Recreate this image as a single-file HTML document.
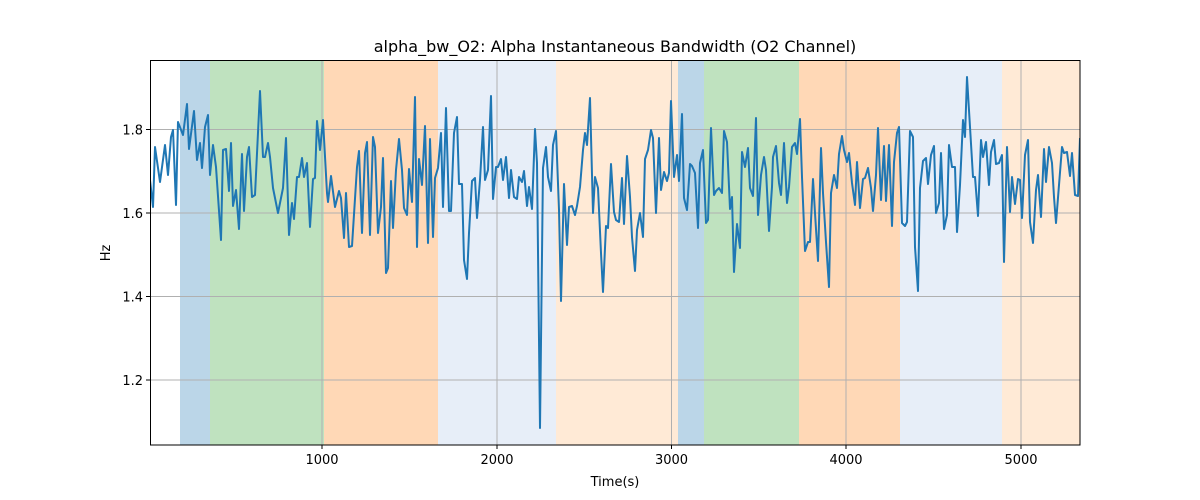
<!DOCTYPE html>
<html><head><meta charset="utf-8"><style>
html,body{margin:0;padding:0;background:#fff;}
svg{display:block;font-family:"DejaVu Sans","Liberation Sans",sans-serif;}
</style></head><body>
<svg width="1200" height="500" viewBox="0 0 1200 500" xmlns="http://www.w3.org/2000/svg">
<defs><clipPath id="c"><rect x="150.5" y="60.5" width="929.5" height="384.5"/></clipPath></defs>
<rect width="1200" height="500" fill="#fff"/>
<g>
<rect x="180" y="60" width="30" height="385" fill="#1f77b4" opacity="0.3"/>
<rect x="210" y="60" width="114" height="385" fill="#2ca02c" opacity="0.3"/>
<rect x="324" y="60" width="114" height="385" fill="#ff7f0e" opacity="0.3"/>
<rect x="438" y="60" width="118" height="385" fill="#aec7e8" opacity="0.3"/>
<rect x="556" y="60" width="122" height="385" fill="#ffbb78" opacity="0.3"/>
<rect x="678" y="60" width="26" height="385" fill="#1f77b4" opacity="0.3"/>
<rect x="704" y="60" width="95" height="385" fill="#2ca02c" opacity="0.3"/>
<rect x="799" y="60" width="101" height="385" fill="#ff7f0e" opacity="0.3"/>
<rect x="900" y="60" width="102" height="385" fill="#aec7e8" opacity="0.3"/>
<rect x="1002" y="60" width="78" height="385" fill="#ffbb78" opacity="0.3"/>
</g>
<g stroke="#b0b0b0" stroke-width="1">
<line x1="150" x2="1080" y1="129.5" y2="129.5"/>
<line x1="150" x2="1080" y1="213" y2="213"/>
<line x1="150" x2="1080" y1="296.5" y2="296.5"/>
<line x1="150" x2="1080" y1="380" y2="380"/>
<line x1="322" x2="322" y1="60" y2="445"/>
<line x1="497" x2="497" y1="60" y2="445"/>
<line x1="671.5" x2="671.5" y1="60" y2="445"/>
<line x1="846" x2="846" y1="60" y2="445"/>
<line x1="1021" x2="1021" y1="60" y2="445"/>
</g>
<polyline clip-path="url(#c)" fill="none" stroke="#1f77b4" stroke-width="2" stroke-linejoin="round" points="150,180 153,207 155,147 160,182 165,145 168,175 171,137 173,130 176,205 178,122 183,135 187,104 189,149 194,111 197,160 200,143 202,168 205,127 208,115 210,175 213,145 216,167 221,240 223,150 226,149 229,191 231,143 233,206 236,190 239,229 242,154 244,211 247,157 249,147 252,197 255,195 260,91 263,157 265,157 268,143 270,157 273,188 278,213 283,188 286,138 289,235 292,203 294,219 297,177 299,177 302,158 304,177 307,163 310,227 313,179 315,178 317,121 320,150 323,120 327,193 328,202 331,176 335,207 339,191 341,198 344,238 346,193 349,247 352,246 357,167 359,151 362,233 365,153 367,142 370,235 373,137 375,147 378,233 381,207 383,158 386,273 388,268 391,181 393,228 396,170 399,139 402,170 404,208 407,215 409,169 412,202 415,97 417,247 419,159 422,185 425,126 428,243 430,139 433,237 435,178 438,168 441,133 443,207 446,108 449,211 451,211 454,133 457,117 459,184 462,184 464,260 467,279 469,233 472,181 475,178 477,218 480,180 483,127 485,180 488,170 491,96 493,199 496,167 498,167 501,159 503,180 506,157 509,198 511,170 514,197 517,199 519,177 522,182 524,171 527,206 529,187 532,209 535,129 537,163 540,428 543,168 546,147 548,177 551,191 553,145 556,131 559,210 561,301 564,184 567,245 569,207 572,206 575,215 577,206 580,187 583,150 585,133 587,145 590,98 593,213 595,177 598,188 601,253 603,292 606,226 608,228 611,164 614,212 616,220 619,222 622,178 624,224 627,156 630,197 632,237 635,271 637,230 640,213 643,237 645,159 648,150 651,130 653,138 656,213 659,138 661,190 664,172 667,181 669,173 671,101 674,177 677,155 679,181 682,114 684,198 687,210 690,164 692,166 695,173 698,228 700,163 703,150 706,223 708,220 711,128 714,195 716,191 719,188 722,193 724,131 727,142 730,209 732,197 734,272 737,224 740,248 742,152 745,167 748,148 750,188 753,196 756,118 758,215 761,175 764,157 766,170 769,231 772,187 773,157 776,146 779,183 781,195 784,143 787,203 789,187 792,147 795,143 797,154 800,119 802,177 805,251 808,242 810,242 813,179 815,213 818,261 821,148 823,193 826,242 829,287 831,193 834,175 837,188 839,154 842,136 844,150 847,162 849,153 852,183 855,205 857,162 860,208 863,179 865,178 868,168 871,188 873,211 876,175 878,128 881,200 884,146 886,201 889,145 892,226 894,162 897,133 899,127 902,223 905,226 907,222 910,131 913,137 915,247 918,291 920,188 923,161 926,158 928,184 931,155 934,146 936,213 939,203 941,153 944,229 947,215 949,145 952,167 955,167 957,232 960,185 963,120 965,137 967,77 970,127 973,177 975,177 978,216 981,140 983,157 986,142 989,185 991,152 994,140 996,164 999,163 1002,155 1004,262 1007,147 1010,212 1012,177 1015,204 1018,179 1020,180 1022,218 1025,155 1028,140 1030,222 1033,243 1036,190 1038,175 1041,217 1044,149 1046,182 1049,147 1052,163 1054,197 1056,223 1059,185 1062,147 1064,153 1067,152 1070,176 1072,153 1075,195 1078,196 1080,138"/>
<rect x="150.5" y="60.5" width="929.5" height="384.5" fill="none" stroke="#000" stroke-width="1"/>
<g stroke="#000" stroke-width="1">
<line x1="146" x2="150" y1="129.5" y2="129.5"/>
<line x1="146" x2="150" y1="213" y2="213"/>
<line x1="146" x2="150" y1="296.5" y2="296.5"/>
<line x1="146" x2="150" y1="380" y2="380"/>
<line x1="322" x2="322" y1="445" y2="449"/>
<line x1="497" x2="497" y1="445" y2="449"/>
<line x1="671.5" x2="671.5" y1="445" y2="449"/>
<line x1="846" x2="846" y1="445" y2="449"/>
<line x1="1021" x2="1021" y1="445" y2="449"/>
</g>
<g font-size="13" fill="#000">
<text x="143" y="134.5" text-anchor="end">1.8</text>
<text x="143" y="218" text-anchor="end">1.6</text>
<text x="143" y="301.5" text-anchor="end">1.4</text>
<text x="143" y="385" text-anchor="end">1.2</text>
<text x="322" y="464" text-anchor="middle">1000</text>
<text x="497" y="464" text-anchor="middle">2000</text>
<text x="671.5" y="464" text-anchor="middle">3000</text>
<text x="846" y="464" text-anchor="middle">4000</text>
<text x="1021" y="464" text-anchor="middle">5000</text>
<text x="615" y="486" text-anchor="middle">Time(s)</text>
<text transform="translate(110,253) rotate(-90)" text-anchor="middle">Hz</text>
</g>
<text x="615" y="52" text-anchor="middle" font-size="16" fill="#000">alpha_bw_O2: Alpha Instantaneous Bandwidth (O2 Channel)</text>
</svg>
</body></html>
